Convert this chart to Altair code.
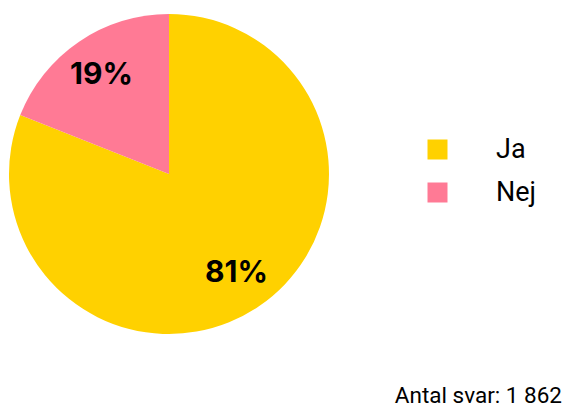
import altair as alt
import pandas as pd

categories = ["Ja", "Nej"]
values = [81, 19]
labels = [f"{v}%" for v in values]
colors = ["#FFD100", "#FF7A95"]
footer = "Antal svar: 1 862"

df = pd.DataFrame({"svar": categories, "andel": values, "label": labels, "ord": [0, 1]})

CX, CY, R = 161, 166, 160

base = alt.Chart(df).encode(
    theta=alt.Theta("andel:Q", stack=True),
    order=alt.Order("ord:Q"),
)

arcs = base.mark_arc(outerRadius=R, stroke=None).encode(
    x=alt.value(CX), y=alt.value(CY),
    color=alt.Color(
        "svar:N",
        scale=alt.Scale(domain=categories, range=colors),
        sort=categories,
        legend=alt.Legend(
            title=None, orient="none", legendX=416, legendY=128,
            symbolType="square", symbolSize=400, symbolStrokeWidth=0,
            labelFontSize=27, labelFont="Roboto", labelColor="#000000",
            labelOffset=45, rowPadding=15,
        ),
    ),
)

text = base.mark_text(
    radius=120, font="Inter", fontWeight="bold", fontSize=30, color="#000000",
    align="center", baseline="middle",
).encode(x=alt.value(CX), y=alt.value(CY), text="label:N")

foot = alt.Chart(pd.DataFrame({"t": [footer]})).mark_text(
    font="Roboto", fontSize=22.5, align="right", baseline="bottom", color="#000000"
).encode(x=alt.value(554), y=alt.value(400), text="t:N")

chart = alt.layer(arcs, text, foot).properties(
    width=555, height=401, padding=0, autosize=alt.AutoSizeParams(type="none")
).configure_view(stroke=None)

chart.save("out.html", embed_options={"renderer": "svg", "actions": False})
